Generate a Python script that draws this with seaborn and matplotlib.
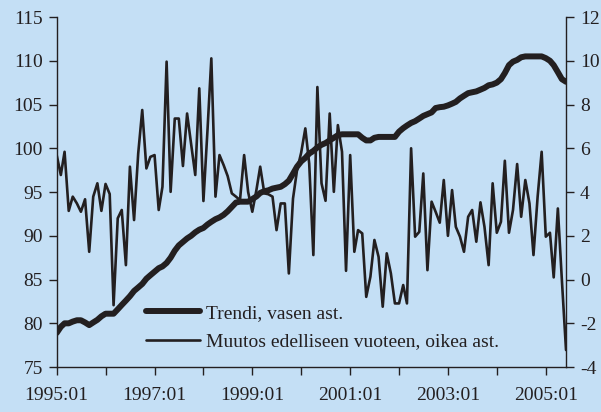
import numpy as np
import pandas as pd
import matplotlib
matplotlib.use('Agg')
import matplotlib.pyplot as plt
import seaborn as sns

# monthly data 1995:01 - 2005:06
months = pd.date_range('1995-01-01', periods=126, freq='MS')

trend = [78.9, 79.6, 80.0, 80.0, 80.2, 80.35, 80.35, 80.1, 79.8, 80.1,
         80.4, 80.8, 81.1, 81.1, 81.1, 81.6, 82.1, 82.6, 83.1, 83.7,
         84.1, 84.5, 85.1, 85.5, 85.9, 86.3, 86.5, 86.9, 87.5, 88.3,
         88.9, 89.3, 89.7, 90.0, 90.4, 90.7, 90.9, 91.3, 91.6, 91.9,
         92.1, 92.4, 92.8, 93.3, 93.8, 93.9, 93.9, 93.9, 94.2, 94.5,
         94.9, 95.1, 95.2, 95.4, 95.5, 95.6, 95.9, 96.3, 97.1, 97.9,
         98.5, 98.9, 99.4, 99.7, 100.1, 100.4, 100.6, 100.9, 101.2, 101.5,
         101.6, 101.6, 101.6, 101.6, 101.6, 101.2, 100.9, 100.9, 101.2, 101.3,
         101.3, 101.3, 101.3, 101.3, 101.9, 102.3, 102.6, 102.9, 103.1, 103.4,
         103.7, 103.9, 104.1, 104.6, 104.7, 104.75, 104.9, 105.1, 105.3, 105.7,
         106.0, 106.3, 106.4, 106.5, 106.7, 106.9, 107.2, 107.3, 107.5, 107.9,
         108.6, 109.5, 109.9, 110.1, 110.4, 110.5, 110.5, 110.5, 110.5, 110.5,
         110.3, 110.0, 109.5, 108.7, 107.9, 107.6]

change = [5.69, 4.78, 5.84, 3.14, 3.79, 3.48, 3.10, 3.67, 1.27, 3.79,
          4.40, 3.14, 4.37, 3.91, -1.17, 2.80, 3.18, 0.66, 5.16, 2.72,
          5.77, 7.75, 5.08, 5.61, 5.69, 3.18, 4.24, 9.96, 4.01, 7.36,
          7.36, 5.19, 7.59, 6.2, 4.78, 8.74, 3.59, 6.9, 10.11, 3.79,
          5.69, 5.23, 4.73, 3.94, 3.79, 3.63, 5.69, 4.0, 3.10, 4.1,
          5.16, 3.94, 3.9, 3.79, 2.26, 3.48, 3.48, 0.28, 3.7, 5.0,
          5.8, 6.91, 5.3, 1.12, 8.8, 4.4, 3.6, 7.59, 4.01, 7.06,
          5.84, 0.4, 5.69, 1.27, 2.26, 2.11, -0.79, 0.13, 1.81, 1.04,
          -1.24, 1.20, 0.28, -1.09, -1.09, -0.25, -1.09, 6.0, 1.96, 2.18,
          4.85, 0.43, 3.56, 3.10, 2.6, 4.55, 2.0, 4.09, 2.41, 1.96,
          1.27, 2.87, 3.18, 1.73, 3.53, 2.41, 0.66, 4.40, 2.14, 2.64,
          5.43, 2.14, 3.18, 5.28, 2.87, 4.55, 3.48, 1.12, 3.79, 5.84,
          1.96, 2.14, 0.10, 3.25, -0.02, -3.22]

label_trend = 'Trendi, vasen ast.'
label_change = 'Muutos edelliseen vuoteen, oikea ast.'

bg = '#c4dff5'
ink = '#231f20'

sns.set_style('ticks')
plt.rcParams['font.family'] = ['Liberation Serif', 'DejaVu Serif']
plt.rcParams['font.size'] = 14
plt.rcParams['axes.unicode_minus'] = False

fig = plt.figure(figsize=(6.01, 4.12), dpi=100, facecolor=bg)
ax = fig.add_axes([0.0943, 0.109, 0.8475, 0.8497])
ax.set_facecolor(bg)
ax2 = ax.twinx()
ax2.patch.set_visible(False)

sns.lineplot(x=months, y=trend, ax=ax, color=ink, linewidth=4.3,
             label=label_trend, legend=False)
sns.lineplot(x=months, y=change, ax=ax2, color=ink, linewidth=1.9,
             label=label_change, legend=False)

ax.set_ylim(75, 115)
ax.set_yticks(np.arange(75, 116, 5))
ax2.set_ylim(-4, 12)
ax2.set_yticks(np.arange(-4, 13, 2))
ax.set_xlim(months[0], months[-1])

year_ticks = pd.date_range('1995-01-01', '2005-01-01', freq='YS')
ax.set_xticks(year_ticks)
ax.set_xticklabels([d.strftime('%Y:%m') if d.year % 2 == 1 else '' for d in year_ticks])

for a in (ax, ax2):
    a.set_xlabel('')
    a.set_ylabel('')
    a.spines['top'].set_visible(False)
    for s in a.spines.values():
        s.set_color(ink)
        s.set_linewidth(1.0)
    a.tick_params(colors=ink, labelcolor=ink, length=6, width=1.0, labelsize=14)
ax.spines['right'].set_visible(False)
ax2.spines['left'].set_visible(False)
ax2.spines['bottom'].set_visible(False)
ax.tick_params(axis='x', pad=8)
ax.tick_params(axis='y', pad=4)
ax2.tick_params(axis='y', pad=4)

h1 = ax.get_lines()[0]
h2 = ax2.get_lines()[0]
leg = ax2.legend([h1, h2], [label_trend, label_change], loc='lower left',
                 bbox_to_anchor=(0.16, 0.025), frameon=False, fontsize=14,
                 handlelength=2.8, handletextpad=0.3, labelspacing=0.55,
                 borderaxespad=0)
for t in leg.get_texts():
    t.set_color(ink)

fig.savefig('out.png', dpi=100, facecolor=bg)
